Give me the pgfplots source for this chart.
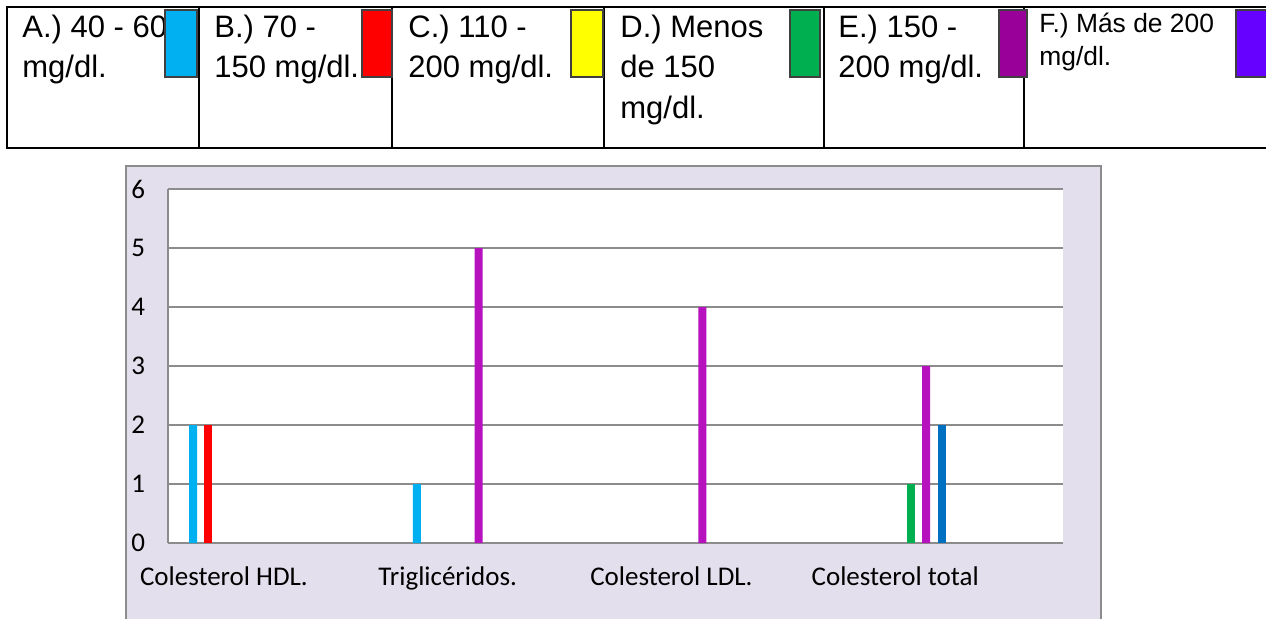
\documentclass[border=0pt]{standalone}
\usepackage{fontspec}
\setmainfont{Liberation Sans}
\newfontfamily\calibri{Carlito}
\usepackage{pgfplots}
\pgfplotsset{compat=1.18}
\definecolor{lav}{HTML}{E4DFEC}
\definecolor{axgray}{HTML}{8C8C8C}
\definecolor{cA}{HTML}{00B0F0}
\definecolor{cB}{HTML}{FF0000}
\definecolor{cC}{HTML}{FFFF00}
\definecolor{cD}{HTML}{00B050}
\definecolor{cE}{HTML}{990099}
\definecolor{cF}{HTML}{6600FF}
\definecolor{barE}{HTML}{B612BE}
\definecolor{barF}{HTML}{0070C0}
\newcommand\legbig{\fontsize{15.5}{19}\selectfont}
\newcommand\legsmall{\fontsize{13.2}{16}\selectfont}
\begin{document}
\begin{tikzpicture}
\useasboundingbox (0,0) rectangle (633pt,-309pt);
\clip (0,0) rectangle (633pt,-309pt);
\begin{scope}[x=0.5pt,y=-0.5pt]
  % chart area
  \draw[draw=axgray, line width=0.7pt, fill=lav] (126,166) rectangle (1101,660);
  % legend table
  \draw[line width=1.3pt] (7,7) rectangle (1290,148);
  \foreach \x in {199,392,604,824,1024} \draw[line width=1.3pt] (\x,7) -- (\x,148);
  \tikzset{t/.style={anchor=base west, inner sep=0pt, font=\legbig}}
  \node[t] at (22,37) {A.) 40 - 60};
  \node[t] at (22,77) {mg/dl.};
  \node[t] at (214,37) {B.) 70 -};
  \node[t] at (214,77) {150 mg/dl.};
  \node[t] at (408,37) {C.) 110 -};
  \node[t] at (408,77) {200 mg/dl.};
  \node[t] at (620,37) {D.) Menos};
  \node[t] at (620,77) {de 150};
  \node[t] at (620,118) {mg/dl.};
  \node[t] at (838,37) {E.) 150 -};
  \node[t] at (838,77) {200 mg/dl.};
  \node[t, font=\legsmall] at (1039,32) {F.) Más de 200};
  \node[t, font=\legsmall] at (1039,65) {mg/dl.};
  \tikzset{b/.style={draw=black!75, line width=0.6pt}}
  \filldraw[b, fill=cA] (165,10) rectangle (197,77);
  \filldraw[b, fill=cB] (362,10) rectangle (392,77);
  \filldraw[b, fill=cC] (571,10) rectangle (603,77);
  \filldraw[b, fill=cD] (790,10) rectangle (820,77);
  \filldraw[b, fill=cE] (999,10) rectangle (1027,77);
  \filldraw[b, fill=cF] (1236,10) rectangle (1270,77);
\end{scope}
\begin{axis}[
  at={(84pt,-271.5pt)}, anchor=south west,
  width=447.5pt, height=177pt, scale only axis,
  xmin=0, xmax=4, ymin=0, ymax=6,
  ybar, bar width=4pt, bar shift=0pt,
  xtick={0.25,1.25,2.25,3.25},
  xticklabels={Colesterol HDL., Triglicéridos., Colesterol LDL., Colesterol total},
  ytick={0,1,2,3,4,5,6},
  major tick length=0pt,
  axis x line=bottom, axis y line=left,
  axis line style={-, draw=axgray, line width=0.8pt},
  ymajorgrids, grid style={draw=axgray, line width=0.8pt},
  axis background/.style={fill=white},
  ticklabel style={font=\calibri\fontsize{13.5}{16}\selectfont},
  yticklabel style={anchor=west, inner sep=0pt, xshift=-18.5pt},
  xticklabel style={anchor=base, inner sep=0pt, yshift=-21pt},
  /pgf/number format/assume math mode=true,
]
% A.) 40 - 60 mg/dl.
\addplot[fill=cA, draw=none] coordinates {(0.112,2) (1.112,1)};
% B.) 70 - 150 mg/dl.
\addplot[fill=cB, draw=none] coordinates {(0.181,2)};
% D.) Menos de 150 mg/dl.
\addplot[fill=cD, draw=none] coordinates {(3.319,1)};
% E.) 150 - 200 mg/dl.
\addplot[fill=barE, draw=none] coordinates {(1.388,5) (2.388,4) (3.388,3)};
% F.) Mas de 200 mg/dl.
\addplot[fill=barF, draw=none] coordinates {(3.457,2)};
\end{axis}
\end{tikzpicture}
\end{document}
